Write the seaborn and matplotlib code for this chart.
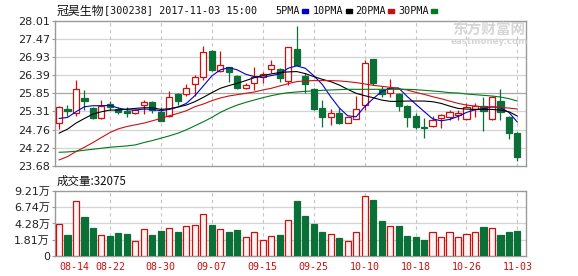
import numpy as np
import matplotlib
matplotlib.use("Agg")
import matplotlib.pyplot as plt
import seaborn as sns
from matplotlib.patches import Rectangle

# ---------------- data ----------------
date_labels = ["08-14", "08-22", "08-30", "09-07", "09-15", "09-25",
               "10-10", "10-18", "10-26", "11-03"]
label_pos = [0, 6, 12, 18, 24, 30, 36, 42, 48, 54]

opens = [24.96, 25.37, 25.25, 25.70, 25.40, 25.10, 25.52, 25.37, 25.32, 25.25,
         25.49, 25.60, 25.30, 25.17, 25.82, 25.83, 26.13, 26.35, 27.12, 26.51,
         26.63, 26.37, 26.00, 26.15, 26.33, 26.59, 26.59, 26.23, 27.17, 26.38,
         25.97, 25.40, 25.15, 25.25, 24.96, 25.09, 25.50, 26.87, 25.95, 25.85,
         25.83, 25.47, 25.17, 24.84, 24.86, 25.12, 25.13, 25.20, 25.09, 25.39,
         25.47, 25.07, 25.63, 25.15, 24.68]
highs = [25.47, 25.50, 26.25, 25.95, 25.45, 25.65, 25.63, 25.45, 25.43, 25.39,
         25.65, 25.63, 25.45, 25.93, 25.87, 26.13, 26.40, 27.26, 27.14, 27.12,
         26.65, 26.40, 26.17, 26.63, 26.50, 26.85, 26.62, 27.22, 27.86, 26.47,
         26.00, 25.65, 25.37, 25.40, 25.15, 25.77, 26.85, 26.87, 26.07, 26.27,
         25.85, 25.50, 25.27, 25.10, 25.17, 25.23, 25.35, 25.35, 25.57, 25.55,
         25.73, 25.77, 25.97, 25.17, 24.71]
lows = [24.78, 25.17, 25.17, 25.35, 25.07, 25.08, 25.35, 25.23, 25.13, 25.22,
        25.23, 25.25, 25.02, 25.13, 25.50, 25.77, 25.77, 26.25, 26.53, 26.49,
        26.20, 25.98, 25.98, 25.95, 26.15, 26.47, 26.20, 26.10, 26.69, 25.87,
        25.35, 24.85, 24.90, 24.94, 24.95, 25.07, 25.35, 26.10, 25.73, 25.75,
        25.33, 24.85, 24.78, 24.51, 24.85, 24.81, 25.05, 25.05, 25.05, 25.13,
        24.74, 25.05, 25.05, 24.48, 23.84]
closes = [25.45, 25.33, 25.97, 25.63, 25.10, 25.47, 25.43, 25.29, 25.27, 25.35,
          25.59, 25.35, 25.03, 25.73, 25.63, 26.00, 26.35, 27.07, 26.55, 26.69,
          26.50, 26.01, 26.11, 26.35, 26.42, 26.70, 26.32, 27.22, 26.70, 26.13,
          25.39, 25.15, 25.25, 24.96, 25.13, 25.37, 26.77, 26.15, 25.83, 26.00,
          25.47, 25.15, 24.84, 24.81, 25.06, 25.19, 25.29, 25.25, 25.43, 25.47,
          25.33, 25.75, 25.30, 24.68, 23.94]
volumes = [4.15, 2.53, 7.64, 5.26, 3.59, 2.48, 2.38, 2.83, 2.68, 1.57,
           3.39, 2.53, 3.14, 3.54, 2.98, 3.85, 4.05, 5.67, 4.05, 3.39,
           2.98, 3.29, 2.18, 2.94, 1.72, 2.33, 2.53, 4.76, 7.69, 5.42,
           4.20, 2.98, 2.63, 2.07, 1.62, 2.94, 8.40, 7.84, 4.66, 3.85,
           3.90, 2.38, 2.23, 1.77, 2.94, 2.18, 2.94, 2.18, 2.68, 2.94,
           3.74, 3.54, 2.53, 2.98, 3.21]
ma5 = [25.10, 25.13, 25.30, 25.45, 25.48, 25.48, 25.49, 25.41, 25.36, 25.35,
       25.38, 25.37, 25.33, 25.37, 25.44, 25.55, 25.78, 26.07, 26.37, 26.55,
       26.62, 26.55, 26.42, 26.35, 26.33, 26.38, 26.43, 26.60, 26.67, 26.60,
       26.38, 26.12, 25.75, 25.42, 25.18, 25.15, 25.45, 25.69, 25.90, 26.01,
       26.01, 25.76, 25.53, 25.31, 25.09, 25.03, 25.07, 25.16, 25.28, 25.36,
       25.39, 25.45, 25.42, 25.28, 24.99]
ma10 = [24.66, 24.78, 24.96, 25.10, 25.23, 25.30, 25.35, 25.35, 25.38, 25.40,
        25.42, 25.42, 25.37, 25.39, 25.44, 25.50, 25.60, 25.73, 25.87, 26.00,
        26.08, 26.15, 26.23, 26.32, 26.38, 26.43, 26.47, 26.49, 26.50, 26.44,
        26.35, 26.27, 26.20, 26.10, 25.97, 25.85, 25.78, 25.72, 25.65, 25.61,
        25.61, 25.62, 25.62, 25.62, 25.60, 25.55, 25.47, 25.40, 25.38, 25.37,
        25.37, 25.37, 25.35, 25.30, 25.17]
ma20 = [23.86, 23.96, 24.11, 24.24, 24.38, 24.53, 24.68, 24.79, 24.86, 24.91,
        24.96, 25.03, 25.10, 25.18, 25.25, 25.33, 25.45, 25.53, 25.63, 25.71,
        25.77, 25.81, 25.85, 25.89, 25.95, 26.00, 26.07, 26.14, 26.20, 26.22,
        26.23, 26.23, 26.23, 26.22, 26.20, 26.17, 26.13, 26.09, 26.06, 26.03,
        25.99, 25.95, 25.88, 25.82, 25.75, 25.69, 25.62, 25.55, 25.50, 25.47,
        25.45, 25.44, 25.43, 25.41, 25.38]
ma30 = [24.09, 24.10, 24.12, 24.15, 24.18, 24.21, 24.24, 24.26, 24.28, 24.31,
        24.38, 24.44, 24.51, 24.58, 24.66, 24.76, 24.88, 25.00, 25.13, 25.28,
        25.40, 25.50, 25.58, 25.65, 25.72, 25.78, 25.83, 25.87, 25.89, 25.91,
        25.92, 25.94, 25.95, 25.96, 25.97, 25.97, 25.97, 25.97, 25.97, 25.97,
        25.97, 25.97, 25.96, 25.94, 25.92, 25.90, 25.87, 25.86, 25.83, 25.81,
        25.79, 25.77, 25.74, 25.69, 25.62]

price_ticks = [23.68, 24.22, 24.76, 25.31, 25.85, 26.39, 26.93, 27.47, 28.01]
vol_ticks = [1.81, 4.28, 6.74, 9.21]
vol_tick_labels = ["1.81万", "4.28万", "6.74万", "9.21万"]
title_name = "冠昊生物"
title_rest = "[300238] 2017-11-03 15:00"
vol_title = "成交量:32075"
ma_names = ["5PMA", "10PMA", "20PMA", "30PMA"]

# ---------------- style ----------------
sns.set_theme(style="white")
plt.rcParams["font.family"] = ["DejaVu Sans", "Noto Sans CJK SC"]

RED = "#cc1010"
GREEN = "#0a7037"
FRAME = "#9a9a9a"
GRID = "#d4d4d4"
ma_colors = ["#0000cc", "#000000", "#cc1010", "#007a1a"]

W, H = 578, 276
fig = plt.figure(figsize=(W / 100, H / 100), dpi=100)
fig.patch.set_facecolor("white")

def fx(x):
    return x / W

def fy(y):
    return 1 - y / H

L, R = 55, 525.5
ax = fig.add_axes([fx(L), fy(166), fx(R - L), 145 / H])
axv = fig.add_axes([fx(L), fy(256), fx(R - L), 65 / H])

idx = np.arange(len(closes))
o = np.array(opens); c = np.array(closes)
hi = np.array(highs); lo = np.array(lows)
up = c >= o
edge = [RED if u else GREEN for u in up]
face = ["white" if u else GREEN for u in up]
body_bot = np.minimum(o, c)
body_h = np.maximum(np.abs(c - o), 0.012)

xmin, xmax = -0.47, 54.95

# ---- price panel ----
ax.set_xlim(xmin, xmax)
ax.set_ylim(price_ticks[0], price_ticks[-1])
for t in price_ticks[1:-1]:
    ax.axhline(t, color=("#a8a8a8" if t == 25.85 else GRID), lw=0.9, zorder=0)
for p in label_pos[1:]:
    ax.axvline(p, color="#c4c4c4", lw=0.8, ls=(0, (3, 3)), zorder=0)

ax.vlines(idx, lo, hi, colors=edge, lw=0.9, zorder=2)
ax.bar(idx, body_h, bottom=body_bot, width=0.72, color=face,
       edgecolor=edge, linewidth=0.9, zorder=3)

for ser, col in zip([ma5, ma10, ma20, ma30], ma_colors):
    sns.lineplot(x=idx, y=ser, ax=ax, color=col, lw=0.8, zorder=4)

ax.set_yticks(price_ticks)
ax.set_yticklabels([f"{t:.2f}" for t in price_ticks], fontsize=8, color="#222222")
ax.set_xticks([])
ax.tick_params(axis="y", length=2, width=0.8, color=FRAME, pad=1.5, left=True)
ax.set_xlabel(""); ax.set_ylabel("")
for s in ax.spines.values():
    s.set_color(FRAME); s.set_linewidth(1.0); s.set_visible(True)

# ---- volume panel ----
vbot = vol_ticks[-1] - 4 * (vol_ticks[-1] - vol_ticks[0]) / 3
axv.set_xlim(xmin, xmax)
axv.set_ylim(vbot, vol_ticks[-1])
for t in vol_ticks[:-1]:
    axv.axhline(t, color=GRID, lw=0.9, zorder=0)
for p in label_pos[1:]:
    axv.axvline(p, color="#c4c4c4", lw=0.8, ls=(0, (3, 3)), zorder=0)
vol = np.array(volumes)
vface = ["#fff3f3" if u else GREEN for u in up]
axv.bar(idx, vol - vbot, bottom=vbot, width=0.72, color=vface,
        edgecolor=edge, linewidth=0.9, zorder=3)
axv.set_yticks([vbot] + vol_ticks)
axv.set_yticklabels(["0"] + vol_tick_labels, fontsize=8, color="#222222")
axv.tick_params(axis="y", length=2, width=0.8, color=FRAME, pad=1.5, left=True)
axv.set_xticks(label_pos)
xl = axv.set_xticklabels(date_labels, fontsize=7.2, color=RED,
                         family="DejaVu Sans Mono")
xl[0].set_horizontalalignment("left")
xl[0].set_x(-0.2)
axv.tick_params(axis="x", length=0, pad=4.5, bottom=True)
axv.set_xlabel(""); axv.set_ylabel("")
for s in axv.spines.values():
    s.set_color(FRAME); s.set_linewidth(1.0); s.set_visible(True)

# ---- header texts ----
fig.text(fx(57), fy(11), title_name, fontsize=8.6, family=["Noto Sans CJK SC"],
         va="center", ha="left", color="#111111")
fig.text(fx(104), fy(10.5), title_rest, fontsize=7.3,
         family=["DejaVu Sans Mono"], va="center", ha="left", color="#111111")
leg_x = [275, 313, 355, 398]
sq_x = [302, 346, 388, 431]
for name, lx, sx, col in zip(ma_names, leg_x, sq_x, ma_colors):
    fig.text(fx(lx), fy(10.5), name, fontsize=7.3, family=["DejaVu Sans Mono"],
             va="center", ha="left", color="#111111")
    fig.patches.append(Rectangle((fx(sx), fy(12.7)), fx(5.5), 3.7 / H,
                                 transform=fig.transFigure, color=col))

fig.text(fx(57), fy(181), vol_title, fontsize=8.3,
         family=["Noto Sans CJK SC", "DejaVu Sans"], va="center", ha="left",
         color="#111111")

# watermark
fig.text(fx(489), fy(30), "东方财富网", fontsize=10.5, fontweight="bold",
         family=["Noto Sans CJK SC"], va="center", ha="center", color="#d6d6d6")
fig.text(fx(489), fy(42), "eastmoney.com", fontsize=6.3, fontweight="bold",
         va="center", ha="center", color="#d6d6d6")

fig.savefig("out.png", dpi=100, facecolor="white")
